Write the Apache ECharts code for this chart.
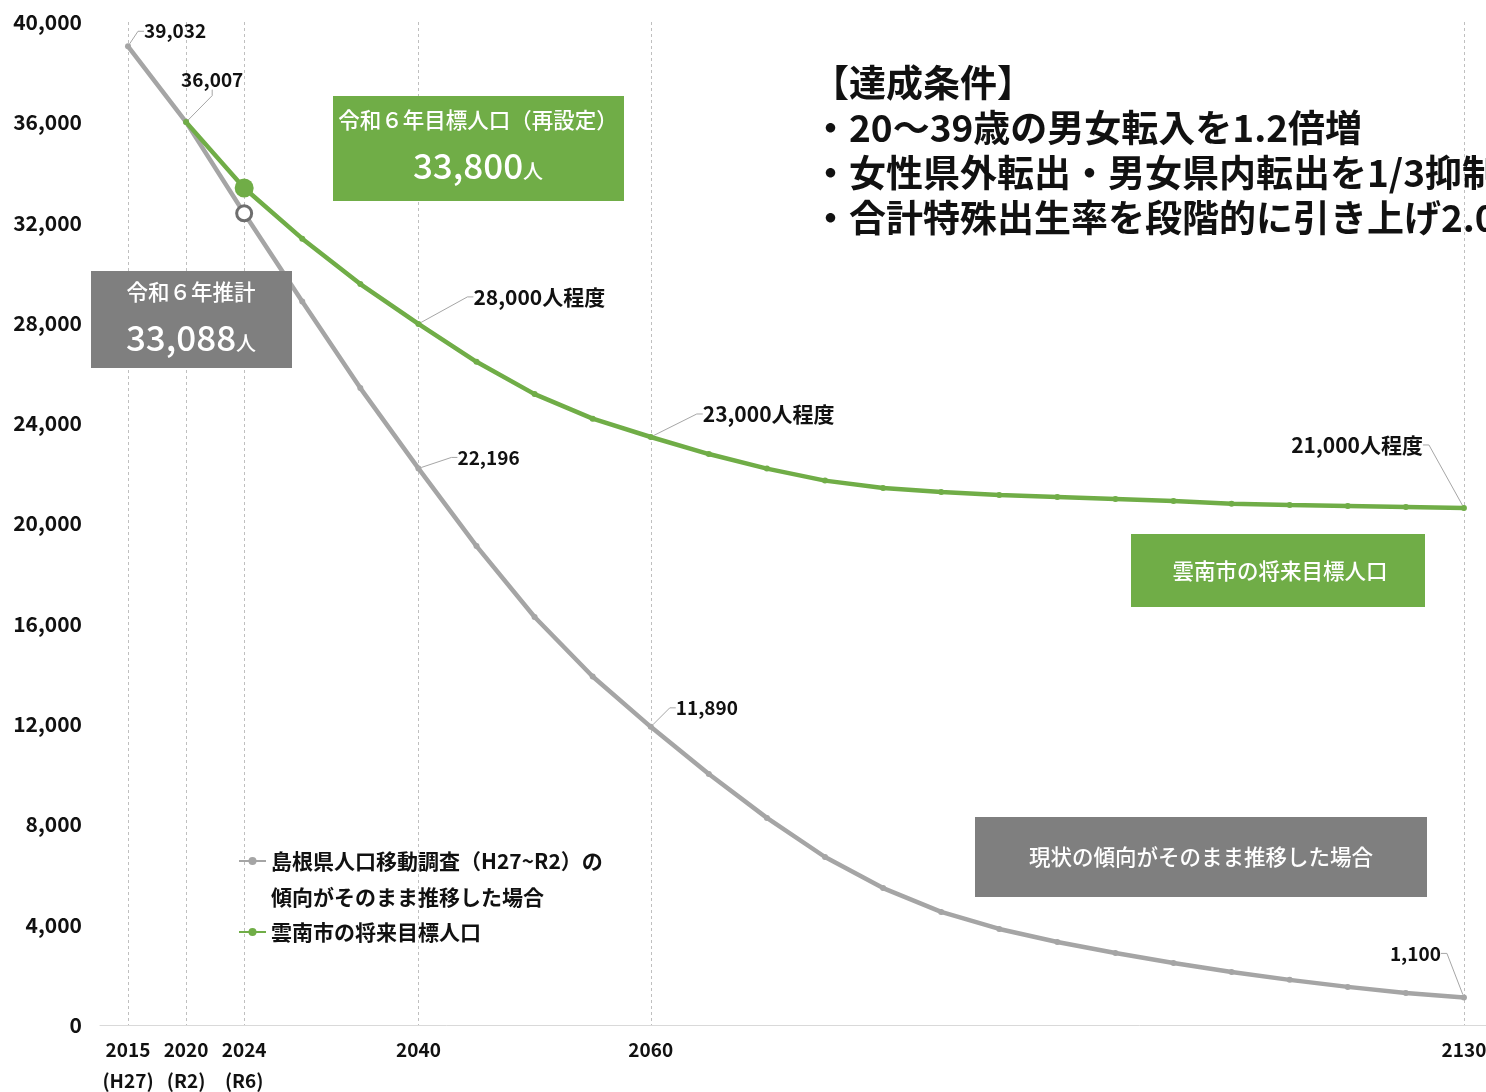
<!DOCTYPE html>
<html>
<head>
<meta charset="utf-8">
<style>
  html, body { margin: 0; padding: 0; background: #fff; }
  #main { width: 1486px; height: 1092px; }
</style>
<script src="https://cdn.jsdelivr.net/npm/echarts@6/dist/echarts.min.js"></script>
</head>
<body>
<div id="main"></div>
<script>
// 年次（5年刻み）
var years = [2015, 2020, 2025, 2030, 2035, 2040, 2045, 2050, 2055, 2060, 2065, 2070,
  2075, 2080, 2085, 2090, 2095, 2100, 2105, 2110, 2115, 2120, 2125, 2130];
// 島根県人口移動調査の傾向がそのまま推移した場合
var grayValues = [39032, 36007, 32370, 28850, 25400, 22196, 19100, 16270, 13900, 11890,
  10010, 8260, 6700, 5460, 4510, 3830, 3310, 2870, 2470, 2110, 1800, 1520, 1280, 1100];
// 雲南市の将来目標人口
var greenValues = [null, 36007, 33380, 31360, 29550, 27960, 26450, 25160, 24180, 23450,
  22770, 22190, 21710, 21420, 21260, 21140, 21060, 20980, 20900, 20790, 20740, 20700, 20660, 20620];

// x軸目盛
var tickYears = [2015, 2020, 2025, 2040, 2060, 2130];
var tickLabels = ['2015\n(H27)', '2020\n(R2)', '2024\n(R6)', '2040', '2060', '2130'];

// データラベル
var grayLabels = { 0: '39,032', 1: '36,007', 5: '22,196', 9: '11,890', 23: '1,100' };
var greenLabels = { 5: '28,000人程度', 9: '23,000人程度', 23: '21,000人程度' };

var grayName = '島根県人口移動調査（H27~R2）の\n傾向がそのまま推移した場合';
var greenName = '雲南市の将来目標人口';

var conditionLines = [
  '【達成条件】',
  '・20～39歳の男女転入を1.2倍増',
  '・女性県外転出・男女県内転出を1/3抑制',
  '・合計特殊出生率を段階的に引き上げ2.07'
];

var FONT = '"Noto Sans CJK JP", "Noto Sans", sans-serif';
var GRAY = '#A5A5A5', GREEN = '#70AD47', BOXGRAY = '#7F7F7F';

// ラベルの位置ずらし
var grayShift = { 0: [8, -15], 1: [-13, -42], 5: [31, -11], 9: [17, -19], 23: [-15, -44] };
var greenShift = { 5: [47, -27], 9: [44, -23], 23: [-33, -63] };

function buildData(vals, labels, special) {
  return vals.map(function (v, i) {
    var d = { value: [years[i], v] };
    if (labels[i]) {
      d.label = {
        show: true,
        position: i === 23 ? 'left' : 'right',
        formatter: labels[i]
      };
    }
    if (special && special[i]) {
      d.symbol = special[i].symbol;
      d.symbolSize = special[i].size;
      d.itemStyle = special[i].style;
    }
    return d;
  });
}

var myChart = echarts.init(document.getElementById('main'));

function labelStyle(size) {
  return {
    color: '#111',
    fontFamily: FONT,
    fontWeight: 'bold',
    fontSize: size
  };
}

function boxText(x, y, text) {
  return { type: 'text', x: x, y: y, z: 11,
    style: { text: text, fill: '#fff', font: '500 21.5px ' + FONT, align: 'center', verticalAlign: 'middle' } };
}

function bigNumber(x, y, num) {
  return { type: 'text', x: x, y: y, z: 11,
    style: {
      text: '{a|' + num + '}{b|人}', align: 'center', verticalAlign: 'middle',
      rich: {
        a: { fill: '#fff', fontSize: 35, fontFamily: FONT, fontWeight: 500, lineHeight: 42, verticalAlign: 'bottom' },
        b: { fill: '#fff', fontSize: 20, fontFamily: FONT, fontWeight: 500, lineHeight: 42, verticalAlign: 'bottom', padding: [0, 0, 2, 0] }
      }
    } };
}

var option = {
  animation: false,
  backgroundColor: '#fff',
  grid: {
    left: 100,
    right: 0,
    top: 22,
    bottom: 67,
    containLabel: false,
    outerBoundsMode: 'none'
  },
  legend: {
    orient: 'vertical',
    left: 238,
    top: 807,
    padding: 0,
    itemWidth: 27,
    itemHeight: 10,
    itemGap: -1,
    formatter: function (name) {
      return name === grayName ? ' \n' + name : name;
    },
    textStyle: {
      color: '#111',
      fontFamily: FONT,
      fontWeight: 'bold',
      fontSize: 21,
      lineHeight: 36
    },
    data: [grayName, greenName]
  },
  xAxis: {
    type: 'value',
    min: 2012.59,
    max: 2131.9,
    axisLine: { show: true, lineStyle: { color: '#D9D9D9', width: 1 } },
    axisTick: { show: false, customValues: tickYears },
    splitLine: {
      show: true,
      lineStyle: { color: '#BFBFBF', type: [3, 3], width: 1 }
    },
    axisLabel: {
      customValues: tickYears,
      showMinLabel: true,
      showMaxLabel: true,
      margin: 9,
      color: '#111',
      fontFamily: FONT,
      fontWeight: 'bold',
      fontSize: 19,
      lineHeight: 31,
      formatter: function (v) {
        var i = tickYears.indexOf(v);
        return i >= 0 ? tickLabels[i] : '';
      }
    }
  },
  yAxis: {
    type: 'value',
    min: 0,
    max: 40000,
    interval: 4000,
    axisLine: { show: false },
    axisTick: { show: false },
    splitLine: { show: false },
    axisLabel: {
      margin: 18,
      color: '#111',
      fontFamily: FONT,
      fontWeight: 'bold',
      fontSize: 21,
      formatter: function (v) { return v.toLocaleString('en-US'); }
    }
  },
  series: [
    {
      name: grayName,
      type: 'line',
      data: buildData(grayValues, grayLabels, {
        2: { symbol: 'circle', size: 15, style: { color: '#fff', borderColor: '#6E6E6E', borderWidth: 3 } }
      }),
      color: GRAY,
      lineStyle: { color: GRAY, width: 4.5 },
      symbol: 'circle',
      symbolSize: 6,
      showAllSymbol: true,
      itemStyle: { color: GRAY },
      label: labelStyle(19),
      labelLine: { show: true, length2: 6, lineStyle: { color: '#A6A6A6', width: 1 } },
      labelLayout: function (p) {
        var s = grayShift[p.dataIndex];
        return s ? { dx: s[0], dy: s[1] } : {};
      },
      z: 2
    },
    {
      name: greenName,
      type: 'line',
      data: buildData(greenValues, greenLabels, {
        2: { symbol: 'circle', size: 19, style: { color: GREEN } }
      }),
      color: GREEN,
      lineStyle: { color: GREEN, width: 4.5 },
      symbol: 'circle',
      symbolSize: 6,
      showAllSymbol: true,
      itemStyle: { color: GREEN },
      label: labelStyle(21),
      labelLine: { show: true, length2: 6, lineStyle: { color: '#A6A6A6', width: 1 } },
      labelLayout: function (p) {
        var s = greenShift[p.dataIndex];
        return s ? { dx: s[0], dy: s[1] } : {};
      },
      z: 3
    }
  ],
  graphic: [
    // 令和6年目標人口
    { type: 'rect', x: 333, y: 96, shape: { width: 291, height: 105 }, style: { fill: GREEN }, z: 10 },
    boxText(478, 120, '令和６年目標人口（再設定）'),
    bigNumber(478, 162, '33,800'),
    // 令和6年推計
    { type: 'rect', x: 91, y: 271, shape: { width: 201, height: 97 }, style: { fill: BOXGRAY }, z: 10 },
    boxText(191, 292, '令和６年推計'),
    bigNumber(191, 334, '33,088'),
    // 系列名ボックス
    { type: 'rect', x: 1131, y: 534, shape: { width: 294, height: 73 }, style: { fill: GREEN }, z: 10 },
    boxText(1280, 571, '雲南市の将来目標人口'),
    { type: 'rect', x: 975, y: 817, shape: { width: 452, height: 80 }, style: { fill: BOXGRAY }, z: 10 },
    boxText(1201, 857, '現状の傾向がそのまま推移した場合'),
    // 達成条件
    { type: 'text', x: 812, y: 60, z: 11,
      style: { text: conditionLines.join('\n'), fill: '#111', font: 'bold 37px ' + FONT, lineHeight: 45 } }
  ]
};

myChart.setOption(option);
</script>
</body>
</html>
